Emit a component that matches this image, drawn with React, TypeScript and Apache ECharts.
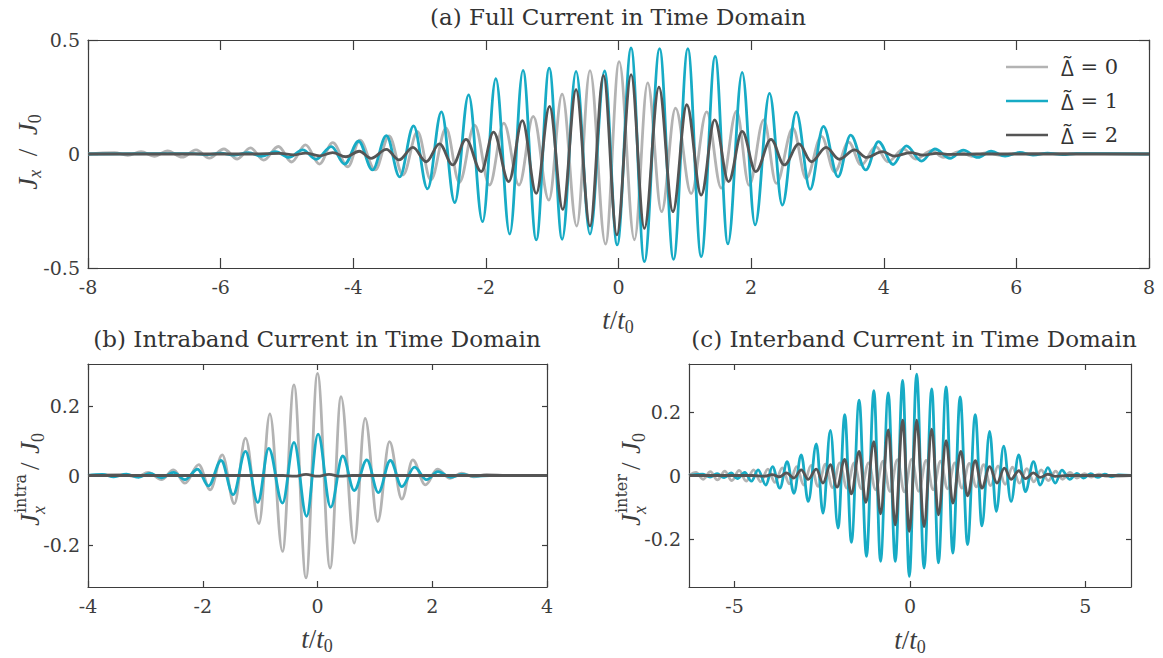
import React, { useEffect, useRef } from "react";
import * as echarts from "echarts";

// ---------- data ----------
const legendNames = ["Δ̃ = 0", "Δ̃ = 1", "Δ̃ = 2"];
const lineColors = ["#b3b3b3", "#17abc5", "#555555"];

const fullXTicks = [-8, 8, 2];
const fullYTicks = [-0.5, 0.5, 0.5];
const intraXRange = [-4, 4, 2];
const intraYRange = [-0.32, 0.32];
const intraYTicks = [-0.2, 0, 0.2];
const interXRange = [-6.3, 6.3];
const interXTicks = [-5, 0, 5];
const interYRange = [-0.352, 0.352];
const interYTicks = [-0.2, 0, 0.2];

// (a) full current, Δ̃ = 0
const fullDelta0: number[][] = [
  [-8, 0], [-7.6, 0.006], [-7.4, -0.006], [-7.2, 0.01], [-7.0, -0.01], [-6.8, 0.014], [-6.58, -0.014],
  [-6.37, 0.018], [-6.17, -0.018], [-5.95, 0.022], [-5.75, -0.022], [-5.55, 0.027], [-5.35, -0.027],
  [-5.13, 0.033], [-4.93, -0.035], [-4.72, 0.04], [-4.51, -0.044], [-4.31, 0.05], [-4.08, -0.056],
  [-3.9, 0.061], [-3.67, -0.07], [-3.46, 0.079], [-3.25, -0.092], [-3.03, 0.098], [-2.83, -0.114],
  [-2.6, 0.113], [-2.4, -0.125], [-2.17, 0.127], [-1.945, -0.136], [-1.73, 0.135], [-1.5, -0.136],
  [-1.285, 0.165], [-1.05, -0.202], [-0.85, 0.263], [-0.63, -0.316], [-0.43, 0.366], [-0.196, -0.395],
  [0.01, 0.405], [0.24, -0.376], [0.44, 0.312], [0.65, -0.253], [0.86, 0.201], [1.096, -0.174],
  [1.33, 0.185], [1.55, -0.15], [1.78, 0.188], [1.97, -0.138], [2.19, 0.15], [2.38, -0.129],
  [2.63, 0.113], [2.83, -0.107], [3.06, 0.077], [3.26, -0.078], [3.47, 0.052], [3.66, -0.048],
  [3.88, 0.032], [4.06, -0.034], [4.3, 0.022], [4.48, -0.022], [4.72, 0.015], [4.9, -0.015],
  [5.14, 0.01], [5.33, -0.01], [5.56, 0.006], [5.75, -0.006], [6.0, 0.003], [8, 0],
];

// (a) full current, Δ̃ = 1
const fullDelta1: number[][] = [
  [-8, 0], [-6.4, 0.002], [-6.2, -0.003], [-6.0, 0.004], [-5.8, -0.005], [-5.58, 0.006], [-5.38, -0.01],
  [-5.17, 0.01], [-4.97, -0.015], [-4.76, 0.018], [-4.56, -0.023], [-4.33, 0.032], [-4.13, -0.044],
  [-3.92, 0.056], [-3.71, -0.07], [-3.5, 0.081], [-3.3, -0.1], [-3.09, 0.123], [-2.88, -0.153],
  [-2.67, 0.185], [-2.47, -0.213], [-2.26, 0.259], [-2.05, -0.297], [-1.85, 0.33], [-1.64, -0.351],
  [-1.44, 0.367], [-1.24, -0.377], [-1.045, 0.377], [-0.85, -0.374], [-0.64, 0.362], [-0.43, -0.351],
  [-0.21, 0.364], [-0.02, -0.399], [0.19, 0.465], [0.39, -0.472], [0.62, 0.462], [0.83, -0.462],
  [1.046, 0.462], [1.247, -0.45], [1.458, 0.428], [1.65, -0.394], [1.865, 0.358], [2.06, -0.311],
  [2.278, 0.266], [2.47, -0.224], [2.68, 0.184], [2.89, -0.155], [3.09, 0.121], [3.31, -0.1],
  [3.5, 0.083], [3.73, -0.07], [3.92, 0.054], [4.14, -0.046], [4.34, 0.036], [4.57, -0.031],
  [4.77, 0.022], [5.0, -0.019], [5.2, 0.017], [5.42, -0.015], [5.62, 0.012], [5.83, -0.009],
  [6.05, 0.007], [6.25, -0.005], [6.47, 0.004], [6.7, -0.003], [6.9, 0.002], [8, 0],
];

// (a) full current, Δ̃ = 2
const fullDelta2: number[][] = [
  [-8, 0], [-5.5, 0], [-5.1, 0.003], [-4.9, -0.004], [-4.72, 0.004], [-4.51, -0.008], [-4.31, 0.006],
  [-4.11, -0.012], [-3.91, 0.012], [-3.73, -0.019], [-3.5, 0.02], [-3.31, -0.026], [-3.1, 0.029],
  [-2.9, -0.034], [-2.7, 0.044], [-2.5, -0.048], [-2.3, 0.064], [-2.07, -0.077], [-1.885, 0.096],
  [-1.655, -0.121], [-1.45, 0.146], [-1.24, -0.173], [-1.04, 0.209], [-0.84, -0.243], [-0.64, 0.282],
  [-0.43, -0.316], [-0.226, 0.345], [-0.025, -0.355], [0.19, 0.348], [0.39, -0.326], [0.61, 0.293],
  [0.82, -0.253], [1.03, 0.216], [1.247, -0.18], [1.45, 0.15], [1.66, -0.121], [1.865, 0.099],
  [2.07, -0.077], [2.3, 0.064], [2.5, -0.048], [2.72, 0.044], [2.91, -0.034], [3.13, 0.029],
  [3.33, -0.023], [3.56, 0.018], [3.74, -0.015], [3.98, 0.01], [4.16, -0.009], [4.4, 0.006],
  [4.6, -0.005], [4.8, 0.003], [5.0, -0.002], [5.4, 0], [8, 0],
];

// (b) intraband current
const intraDelta0: number[][] = [
  [-4, 0], [-3.4, 0.003], [-3.15, -0.004], [-2.95, 0.009], [-2.72, -0.012], [-2.51, 0.016],
  [-2.31, -0.022], [-2.07, 0.031], [-1.87, -0.041], [-1.66, 0.059], [-1.45, -0.081], [-1.255, 0.107],
  [-1.02, -0.138], [-0.83, 0.177], [-0.61, -0.218], [-0.41, 0.26], [-0.2, -0.294], [0.0, 0.293],
  [0.22, -0.266], [0.41, 0.226], [0.64, -0.194], [0.83, 0.164], [1.05, -0.132], [1.255, 0.097],
  [1.47, -0.068], [1.66, 0.045], [1.88, -0.027], [2.09, 0.018], [2.31, -0.008], [2.51, 0.007],
  [2.72, -0.004], [2.95, 0.003], [3.3, 0], [4, 0],
];
const intraDelta1: number[][] = [
  [-4, 0], [-3.75, 0.003], [-3.55, -0.004], [-3.33, 0.004], [-3.12, -0.005], [-2.92, 0.006],
  [-2.72, -0.007], [-2.51, 0.009], [-2.31, -0.012], [-2.09, 0.018], [-1.9, -0.03], [-1.68, 0.043],
  [-1.47, -0.055], [-1.255, 0.069], [-1.04, -0.077], [-0.85, 0.078], [-0.61, -0.079], [-0.41, 0.095],
  [-0.19, -0.117], [0.01, 0.119], [0.23, -0.091], [0.44, 0.056], [0.64, -0.043], [0.86, 0.045],
  [1.06, -0.049], [1.27, 0.043], [1.47, -0.032], [1.69, 0.024], [1.9, -0.012], [2.1, 0.011],
  [2.32, -0.005], [2.52, 0.003], [2.75, -0.002], [3.0, 0], [4, 0],
];
const intraDelta2: number[][] = [
  [-4, 0], [-0.6, 0], [-0.4, -0.002], [-0.2, 0.003], [0.0, -0.002], [0.2, 0.003], [0.4, -0.002],
  [0.6, 0], [4, 0],
];

// (c) interband current
const interDelta0: number[][] = [
  [-6.3, 0], [-6.1, 0.01], [-5.9, -0.012], [-5.69, 0.012], [-5.49, -0.014], [-5.28, 0.014],
  [-5.08, -0.016], [-4.87, 0.016], [-4.67, -0.018], [-4.46, 0.018], [-4.26, -0.02], [-4.05, 0.02],
  [-3.85, -0.022], [-3.64, 0.024], [-3.44, -0.026], [-3.23, 0.028], [-3.03, -0.03], [-2.82, 0.032],
  [-2.62, -0.034], [-2.41, 0.036], [-2.21, -0.038], [-2.0, 0.04], [-1.8, -0.04], [-1.59, 0.04],
  [-1.39, -0.042], [-1.18, 0.04], [-0.98, -0.045], [-0.77, 0.045], [-0.57, -0.05], [-0.36, 0.05],
  [-0.16, -0.052], [0.05, 0.052], [0.25, -0.05], [0.46, 0.048], [0.66, -0.045], [0.87, 0.045],
  [1.07, -0.042], [1.28, 0.04], [1.48, -0.04], [1.69, 0.038], [1.89, -0.036], [2.1, 0.034],
  [2.3, -0.032], [2.51, 0.03], [2.71, -0.028], [2.92, 0.026], [3.12, -0.024], [3.33, 0.022],
  [3.53, -0.02], [3.74, 0.018], [3.94, -0.016], [4.15, 0.014], [4.35, -0.012], [4.56, 0.01],
  [4.76, -0.008], [4.97, 0.006], [5.17, -0.005], [5.38, 0.004], [5.6, -0.003], [6.3, 0],
];
const interDelta1: number[][] = [
  [-6.3, 0], [-5.9, 0.004], [-5.7, -0.005], [-5.5, 0.006], [-5.3, -0.007], [-5.1, 0.008],
  [-4.92, -0.01], [-4.71, 0.01], [-4.52, -0.018], [-4.33, 0.018], [-4.11, -0.03], [-3.92, 0.028],
  [-3.71, -0.04], [-3.5, 0.044], [-3.31, -0.056], [-3.1, 0.065], [-2.9, -0.082], [-2.67, 0.1],
  [-2.48, -0.119], [-2.27, 0.142], [-2.05, -0.166], [-1.86, 0.192], [-1.67, -0.211], [-1.45, 0.238],
  [-1.24, -0.255], [-1.03, 0.268], [-0.84, -0.271], [-0.62, 0.261], [-0.42, -0.271], [-0.21, 0.3],
  [-0.02, -0.318], [0.19, 0.32], [0.4, -0.292], [0.62, 0.273], [0.81, -0.276], [1.03, 0.28],
  [1.22, -0.245], [1.43, 0.248], [1.64, -0.218], [1.86, 0.192], [2.05, -0.159], [2.27, 0.139],
  [2.46, -0.113], [2.67, 0.093], [2.88, -0.082], [3.1, 0.065], [3.29, -0.051], [3.52, 0.044],
  [3.71, -0.03], [3.93, 0.025], [4.14, -0.024], [4.33, 0.017], [4.55, -0.012], [4.76, 0.007],
  [4.95, -0.008], [5.15, 0.006], [5.35, -0.006], [5.55, 0.004], [5.75, -0.004], [5.95, 0.002],
  [6.3, 0],
];
const interDelta2: number[][] = [
  [-6.3, 0], [-4.5, 0], [-4.14, -0.002], [-3.93, 0.003], [-3.72, -0.004], [-3.52, 0.008],
  [-3.31, -0.008], [-3.1, 0.018], [-2.9, -0.012], [-2.67, 0.02], [-2.48, -0.024], [-2.27, 0.034],
  [-2.08, -0.037], [-1.86, 0.051], [-1.67, -0.058], [-1.45, 0.076], [-1.26, -0.085], [-1.03, 0.107],
  [-0.84, -0.121], [-0.62, 0.144], [-0.42, -0.156], [-0.21, 0.175], [-0.02, -0.176], [0.19, 0.175],
  [0.4, -0.161], [0.62, 0.146], [0.81, -0.124], [1.03, 0.11], [1.22, -0.087], [1.45, 0.076],
  [1.64, -0.064], [1.86, 0.047], [2.05, -0.04], [2.27, 0.028], [2.48, -0.024], [2.69, 0.023],
  [2.88, -0.012], [3.1, 0.015], [3.29, -0.01], [3.52, 0.008], [3.71, -0.006], [3.93, 0.004],
  [4.14, -0.003], [4.5, 0], [6.3, 0],
];

// ---------- styling ----------
const AXIS = "#3d3d3d";
const TEXT = "#3d3d3d";
const SERIF = '"DejaVu Serif", serif';
const MATH = '"Liberation Serif", serif';
const LINE_W = 2.8;

function xPair(grid: number, min: number, max: number, tickLen: number, interval?: number, custom?: number[]) {
  const base: any = {
    type: "value", gridIndex: grid, min, max,
    splitLine: { show: false },
    axisLine: { show: true, onZero: false, lineStyle: { color: AXIS, width: 1.2 } },
  };
  if (interval !== undefined) base.interval = interval;
  const tick: any = { show: true, inside: true, length: tickLen, lineStyle: { color: AXIS, width: 1.2 } };
  if (custom) tick.customValues = custom;
  const lab: any = { show: true, color: TEXT, fontFamily: SERIF, fontSize: 19, margin: 9 };
  if (custom) lab.customValues = custom;
  return [
    { ...base, position: "bottom", axisTick: tick, axisLabel: lab },
    { ...base, position: "top", axisTick: tick, axisLabel: { show: false } },
  ];
}
function yPair(grid: number, min: number, max: number, tickLen: number, interval?: number, custom?: number[]) {
  const base: any = {
    type: "value", gridIndex: grid, min, max,
    splitLine: { show: false },
    axisLine: { show: true, onZero: false, lineStyle: { color: AXIS, width: 1.2 } },
  };
  if (interval !== undefined) base.interval = interval;
  const tick: any = { show: true, inside: true, length: tickLen, lineStyle: { color: AXIS, width: 1.2 } };
  if (custom) tick.customValues = custom;
  const lab: any = { show: true, color: TEXT, fontFamily: SERIF, fontSize: 19, margin: 8 };
  if (custom) lab.customValues = custom;
  return [
    { ...base, position: "left", axisTick: tick, axisLabel: lab },
    { ...base, position: "right", axisTick: tick, axisLabel: { show: false } },
  ];
}

function line(name: string, data: number[][], color: string, xi: number, yi: number, z: number) {
  return {
    type: "line", name, data, xAxisIndex: xi, yAxisIndex: yi,
    showSymbol: false, symbol: "none", smooth: 0.36, smoothMonotone: "x",
    lineStyle: { color, width: LINE_W }, itemStyle: { color }, z, silent: true,
  };
}

const richMath = {
  J: { fontFamily: MATH, fontStyle: "italic", fontSize: 27, lineHeight: 32 },
  t: { fontFamily: MATH, fontStyle: "italic", fontSize: 27, lineHeight: 32 },
  n: { fontFamily: MATH, fontSize: 27, lineHeight: 32 },
  sx: { fontFamily: MATH, fontStyle: "italic", fontSize: 18, lineHeight: 18, verticalAlign: "bottom" },
  s0: { fontFamily: MATH, fontSize: 18, lineHeight: 18, verticalAlign: "bottom" },
};

function xTitle(x: number, y: number) {
  return {
    type: "text", x, y, silent: true,
    style: { text: "{t|t}{n|/}{t|t}{s0|0}", rich: richMath, fill: TEXT, align: "center", verticalAlign: "middle" },
  };
}
function titleText(x: number, y: number, text: string) {
  return {
    type: "text", x, y, silent: true,
    style: { text, fill: "#333", font: '23px "DejaVu Serif"', align: "center", verticalAlign: "middle" },
  };
}
function yTitleSimple(x: number, y: number) {
  return {
    type: "group", x, y, rotation: Math.PI / 2, silent: true,
    children: [
      {
        type: "text", x: 0, y: 0,
        style: { text: "{J|J}{sx|x}{n|  /  }{J|J}{s0|0}", rich: richMath, fill: TEXT, align: "center", verticalAlign: "middle" },
      },
    ],
  };
}
function yTitleStack(x: number, y: number, sup: string) {
  return {
    type: "group", x, y, rotation: Math.PI / 2, silent: true,
    children: [
      { type: "text", x: -48, y: 0, style: { text: "J", font: 'italic 27px "Liberation Serif"', fill: TEXT, align: "left", verticalAlign: "middle" } },
      { type: "text", x: -35, y: -10, style: { text: sup, font: '16px "DejaVu Serif"', fill: TEXT, align: "left", verticalAlign: "middle" } },
      { type: "text", x: -36, y: 9, style: { text: "x", font: 'italic 18px "Liberation Serif"', fill: TEXT, align: "left", verticalAlign: "middle" } },
      { type: "text", x: 8, y: 0, style: { text: "/", font: '27px "Liberation Serif"', fill: TEXT, align: "left", verticalAlign: "middle" } },
      { type: "text", x: 24, y: 0, style: { text: "J", font: 'italic 27px "Liberation Serif"', fill: TEXT, align: "left", verticalAlign: "middle" } },
      { type: "text", x: 36, y: 8, style: { text: "0", font: '18px "Liberation Serif"', fill: TEXT, align: "left", verticalAlign: "middle" } },
    ],
  };
}

const option: any = {
  animation: false,
  backgroundColor: "#ffffff",
  grid: [
    { left: 88, top: 40, width: 1061, height: 228 },
    { left: 88, top: 364, width: 459, height: 223 },
    { left: 689, top: 364, width: 442, height: 223 },
  ],
  xAxis: [
    ...xPair(0, fullXTicks[0], fullXTicks[1], 10, fullXTicks[2]),
    ...xPair(1, intraXRange[0], intraXRange[1], 6, intraXRange[2]),
    ...xPair(2, interXRange[0], interXRange[1], 6, undefined, interXTicks),
  ],
  yAxis: [
    ...yPair(0, fullYTicks[0], fullYTicks[1], 10, fullYTicks[2]),
    ...yPair(1, intraYRange[0], intraYRange[1], 5, undefined, intraYTicks),
    ...yPair(2, interYRange[0], interYRange[1], 5, undefined, interYTicks),
  ],
  legend: {
    data: legendNames, orient: "vertical", left: 1001, top: 50, icon: "rect",
    itemWidth: 42, itemHeight: 2.5, itemGap: 10, selectedMode: false,
    formatter: (name: string) => "{d|" + name.slice(0, 2) + "}{r|" + name.slice(2) + "}",
    textStyle: {
      fontFamily: SERIF, fontSize: 21, color: "#333", lineHeight: 24, padding: [0, 0, 0, 8],
      rich: {
        d: { fontFamily: '"Open Sans"', fontSize: 22, color: "#333", lineHeight: 24 },
        r: { fontFamily: SERIF, fontSize: 21, color: "#333", lineHeight: 24 },
      },
    },
  },
  series: [
    line(legendNames[0], fullDelta0, lineColors[0], 0, 0, 2),
    line(legendNames[1], fullDelta1, lineColors[1], 0, 0, 3),
    line(legendNames[2], fullDelta2, lineColors[2], 0, 0, 4),
    line(legendNames[0], intraDelta0, lineColors[0], 2, 2, 2),
    line(legendNames[1], intraDelta1, lineColors[1], 2, 2, 3),
    line(legendNames[2], intraDelta2, lineColors[2], 2, 2, 4),
    line(legendNames[0], interDelta0, lineColors[0], 4, 4, 2),
    line(legendNames[1], interDelta1, lineColors[1], 4, 4, 3),
    line(legendNames[2], interDelta2, lineColors[2], 4, 4, 4),
  ],
  graphic: [
    titleText(618, 17, "(a) Full Current in Time Domain"),
    titleText(317, 339, "(b) Intraband Current in Time Domain"),
    titleText(914, 339, "(c) Interband Current in Time Domain"),
    xTitle(618, 320),
    xTitle(317, 639),
    xTitle(910, 640),
    yTitleSimple(28, 152),
    yTitleStack(30, 478, "intra"),
    yTitleStack(631, 478, "inter"),
  ],
};

export default function App() {
  const ref = useRef<HTMLDivElement>(null);
  useEffect(() => {
    const chart = echarts.init(ref.current as HTMLDivElement, null, { renderer: "svg" });
    chart.setOption(option);
    return () => chart.dispose();
  }, []);
  return (
    <div
      ref={ref}
      style={{ position: "absolute", left: 0, top: 0, width: 1163, height: 658, background: "#fff" }}
    />
  );
}
